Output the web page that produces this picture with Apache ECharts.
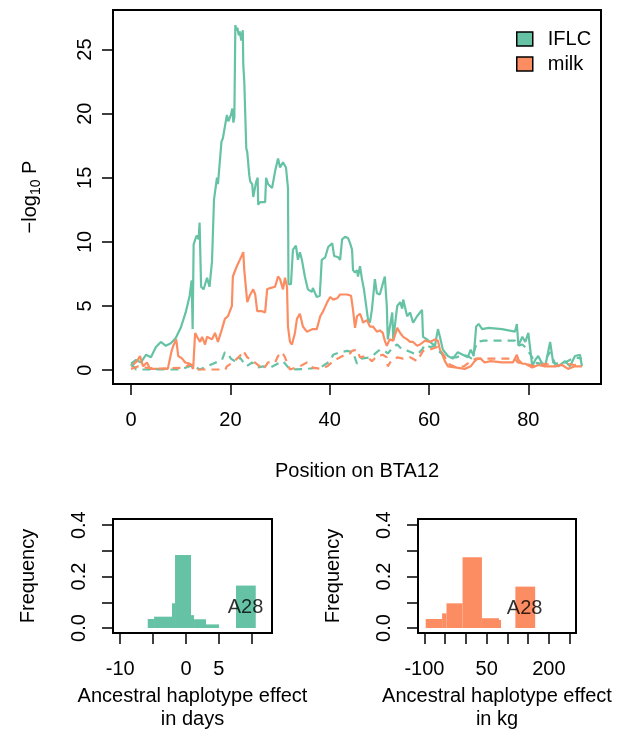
<!DOCTYPE html>
<html>
<head>
<meta charset="utf-8">
<title>BTA12</title>
<script src="https://cdn.jsdelivr.net/npm/echarts@6.0.0/dist/echarts.min.js"></script>
<style>
  html, body { margin: 0; padding: 0; background: #fff; }
  #main { width: 625px; height: 732px; }
</style>
</head>
<body>
<div id="main"></div>
<script>
// ---- main plot: -log10 P along BTA12 ----
var iflcPos = [0,1,2,3,4,5,6,7,8,9,10,11,11.8,12.2,12.4,12.6,13.2,13.6,13.8,14.1,14.6,15.3,15.8,16.3,16.7,17.3,17.5,18.2,18.5,19.3,19.6,20.1,20.4,20.6,20.8,21.0,21.2,21.4,21.7,21.9,22.2,22.5,22.6,22.8,23.0,23.2,23.4,23.8,24.0,24.4,24.6,24.8,25.2,25.5,25.6,26.0,27.0,27.2,27.6,28.4,29.0,29.6,30.0,30.6,31.2,31.6,31.7,32.2,32.6,33.2,33.6,34.0,34.4,35.0,35.6,36.4,36.6,37.4,38.0,38.4,39.1,39.7,40.5,40.9,41.7,42.1,42.5,43.1,43.7,44.1,44.5,44.7,45.1,45.5,45.7,46.1,46.5,46.9,47.7,48.1,48.5,49.1,49.5,50.1,51.1,51.5,51.7,52.6,52.8,53.6,54.2,54.6,54.8,55.6,56.2,56.8,57.6,58.6,58.8,59.6,60.2,61.2,61.8,62.2,62.8,63.8,64.8,65.8,66.8,67.8,68.4,69.0,69.5,70.0,70.7,72.0,74.7,77.3,77.7,78.0,78.8,79.4,80.0,80.8,81.4,82.0,82.8,83.4,84.4,85.0,86.0,87.4,88.4,89.4,90.4,90.8];
var iflcLogP = [0.5,0.8,0.6,1.2,1.0,1.8,2.2,1.9,2.1,2.5,3.3,4.5,5.8,7.0,3.2,9.8,10.5,10.2,11.5,6.5,6.3,7.2,6.5,8.5,13.3,15.0,14.5,17.8,18.1,19.9,19.4,19.9,20.4,19.3,19.7,26.9,26.5,26.7,26.1,26.4,25.7,26.5,23.8,22.5,19.9,17.3,17.0,15.2,14.7,14.5,13.5,13.9,14.7,15.0,12.9,13.1,13.1,15.0,14.5,14.2,15.5,16.5,15.8,16.2,15.8,14.2,6.7,6.7,9.4,9.7,8.6,9.2,8.6,7.3,6.3,6.1,6.4,5.7,5.8,8.6,8.8,9.6,9.9,8.9,8.8,8.6,10.2,10.4,10.3,9.9,9.4,7.8,7.6,7.8,7.3,8.1,7.1,6.3,4.0,3.7,4.7,7.1,6.0,5.9,7.3,5.0,2.4,4.5,2.4,5.0,5.3,4.8,5.5,4.2,4.5,3.7,4.2,4.7,2.6,2.4,2.2,1.9,3.2,2.6,1.6,1.1,0.9,1.4,1.2,1.0,1.6,1.1,3.4,3.6,3.2,3.3,3.2,3.0,3.6,1.9,2.6,2.2,2.9,0.3,0.8,1.1,0.5,0.3,2.2,0.6,0.3,0.7,0.3,1.1,1.2,0.3];

var milkPos = [0,1.2,1.8,2.4,3.2,3.8,6,7.4,8.1,8.5,9.1,9.5,10.3,10.9,11.9,12.5,12.9,13.3,13.9,14.3,14.9,15.3,16.3,16.9,17.5,18.3,18.9,19.5,20.3,20.5,21.3,21.9,22.6,22.8,23.4,24.0,24.6,25.0,25.4,26.4,27.0,27.4,28.0,29.0,29.6,30.0,30.6,31.0,31.4,31.6,32.0,32.4,33.0,33.4,34.0,34.6,35.4,36.6,37.4,38.1,38.7,39.5,40.1,40.7,41.5,42.1,43.5,44.3,44.7,45.1,45.5,46.1,46.5,46.7,47.5,48.1,48.7,49.5,50.1,50.7,51.1,51.5,52.1,52.8,53.6,54.2,54.8,55.6,56.2,56.8,57.6,58.2,59.2,60.2,61.2,61.8,62.2,62.8,63.2,63.8,65.6,67.2,68.4,69.2,69.8,70.4,71.2,72.4,74.7,76.9,77.7,78.0,78.8,79.4,80.8,82.0,83.4,85.4,86.8,88.0,89.4,90.8];
var milkLogP = [0.3,0.7,1.1,0.3,0.6,0.1,0.1,0.1,1.4,1.9,2.4,1.1,0.9,0.6,0.5,0.1,2.9,2.6,2.2,2.6,2.0,2.6,2.4,2.9,2.2,3.2,4.0,4.2,5.0,7.3,8.1,8.6,9.2,7.8,5.3,5.9,6.3,5.9,4.6,4.6,4.5,6.3,6.4,6.5,7.3,7.1,6.3,7.2,6.5,3.4,2.2,2.0,2.9,4.0,4.4,3.4,3.0,3.2,3.2,4.2,4.6,5.3,5.7,5.5,5.6,5.9,5.9,5.8,4.7,3.3,4.2,4.4,4.0,3.7,3.9,3.4,3.4,3.0,3.1,2.9,2.3,1.9,2.4,2.3,3.3,2.9,2.6,2.4,2.2,2.2,1.9,2.0,2.3,2.2,2.4,2.3,1.6,1.1,0.7,0.3,0.2,0.1,0.3,0.7,0.9,0.9,0.6,0.7,0.6,0.6,1.2,0.8,0.5,0.5,0.2,0.4,0.3,0.3,0.4,0.1,0.3,0.3];

// dashed: conditional analysis
var iflcCondPos = [0,1,5,10,12.4,13.8,16.5,18.3,18.9,19.5,20.1,20.5,21.3,21.9,23.2,24.4,25.4,26.6,28.0,30.0,30.6,32.0,35.4,38.1,40.1,40.7,42.1,43.5,44.7,45.5,46.3,48.3,49.5,50.1,51.1,51.7,52.8,53.6,54.6,55.8,56.2,57.6,58.6,59.2,60.2,61.2,62.2,63.2,64.2,65.6,66.8,67.8,68.6,69.7,71.0,75.0,77.3,77.9,78.8,79.6,80.8,81.0,82.8,84.4,85.4,87.4,89.4,90.8];
var iflcCondLogP = [0.5,0.05,0.05,0.05,0.4,0.05,0.5,0.8,1.4,1.3,0.9,1.0,0.6,1.0,0.3,0.6,0.2,0.3,0.2,0.6,0.7,0.05,0.1,0.2,0.7,1.2,1.4,1.5,1.4,0.5,0.9,1.0,1.4,1.6,1.5,1.3,1.8,2.0,1.6,1.5,1.4,1.2,1.6,2.0,1.8,1.9,1.4,1.1,1.0,1.0,1.2,1.1,0.9,2.2,2.3,2.3,2.3,1.9,2.0,1.7,1.0,0.6,0.5,1.4,0.5,0.6,1.0,0.9];

var milkCondPos = [0,1.5,3,5,10.9,11.5,12.5,13.3,19.0,19.3,20.5,21.9,22.6,23.4,24.6,25.6,26.6,27.6,29.0,29.6,30.4,31.0,32.0,34.0,35.4,36.6,38.1,39.5,40.7,42.1,43.1,44.1,44.5,45.5,46.1,47.3,48.5,49.5,50.7,51.5,51.7,52.2,53.6,54.8,56.2,57.6,58.8,60.2,61.6,62.6,63.2,63.8,65.6,67.0,68.4,69.4,72,75,77.3,77.9,79.4,81.4,83.4,85.4,87.4,89.4,90.8];
var milkCondLogP = [0.1,0.3,0.2,0.1,0.2,0.4,0.4,0.05,0.05,0.3,0.6,1.1,1.5,1.0,0.7,0.4,0.05,0.6,0.6,1.1,1.4,1.0,0.05,0.3,0.6,0.2,0.1,0.3,0.7,1.0,1.2,1.3,1.5,1.6,1.0,1.1,0.7,1.1,1.2,1.0,0.3,0.6,1.0,0.9,1.0,0.7,1.5,1.6,1.8,1.4,1.0,0.5,0.2,0.3,0.7,0.9,0.9,0.9,0.9,0.6,0.5,0.3,0.5,0.3,0.5,0.4,0.5];

var mainXTicks = [0, 20, 40, 60, 80];
var mainYTicks = [0, 5, 10, 15, 20, 25];

// ---- histograms of ancestral haplotype effects ----
var daysLo   = [-5.82, -4.86, -2.13, -1.67, 0.76, 1.22, 3.04, 7.6];
var daysHi   = [-4.86, -2.13, -1.67, 0.76, 1.22, 3.04, 5.02, 10.6];
var daysFreq = [0.035, 0.044, 0.096, 0.284, 0.05, 0.034, 0.014, 0.165];
var daysA28  = [9.04, 0.078];
var daysTicks  = [-10, -5, 0, 5, 10];
var daysLabels = [-10, 0, 5];

var kgLo   = [-96.8, -57.3, -46.7, -8, 38.7, 79.8, 119.3];
var kgHi   = [-57.3, -46.7, -8, 38.7, 79.8, 84.7, 167];
var kgFreq = [0.035, 0.057, 0.096, 0.275, 0.038, 0.031, 0.161];
var kgA28  = [141.5, 0.074];
var kgTicks  = [-100, -50, 0, 50, 100, 150, 200, 250];
var kgLabels = [-100, 50, 200];

var freqTicks  = [0, 0.1, 0.2, 0.3, 0.4];
var freqLabels = [0, 0.2, 0.4];

var GREEN = '#66C2A5', ORANGE = '#FC8D62';
var FONT = "'Liberation Sans', Arial, sans-serif";

function zip(a, b) {
    return a.map(function (v, i) { return [v, b[i]]; });
}

function lineSeries(name, pos, val, color, dashed) {
    return {
        name: name, type: 'line', xAxisIndex: 0, yAxisIndex: 0,
        data: zip(pos, val), showSymbol: false, symbol: 'none',
        itemStyle: { color: color },
        lineStyle: { color: color, width: 2.2, type: dashed ? [8, 6] : 'solid' },
        silent: true
    };
}

function histSeries(idx, lo, hi, freq, color) {
    return {
        type: 'custom', xAxisIndex: idx, yAxisIndex: idx,
        data: lo.map(function (v, i) { return [v, hi[i], freq[i]]; }),
        encode: { x: [0, 1], y: 2 },
        renderItem: function (params, api) {
            var p0 = api.coord([api.value(0), api.value(2)]);
            var p1 = api.coord([api.value(1), 0]);
            return {
                type: 'rect',
                shape: { x: p0[0], y: p0[1], width: p1[0] - p0[0], height: p1[1] - p0[1] },
                style: { fill: color }
            };
        }
    };
}

function labelSeries(idx, pt) {
    return {
        type: 'scatter', xAxisIndex: idx, yAxisIndex: idx,
        data: [pt], symbolSize: 1, itemStyle: { color: 'rgba(0,0,0,0)' },
        label: { show: true, position: 'inside', formatter: 'A28', color: '#000', fontSize: 20, fontFamily: FONT },
        silent: true
    };
}

var tickStyle = { show: true, length: 11, lineStyle: { color: '#000', width: 1.5 } };

function xAx(idx, min, max, ticks, labels, name, gap) {
    return {
        gridIndex: idx, type: 'value', min: min, max: max,
        axisLine: { show: false, onZero: false },
        axisTick: Object.assign({ customValues: ticks }, tickStyle),
        axisLabel: { customValues: labels, color: '#000', fontSize: 20, fontFamily: FONT, margin: 26 },
        splitLine: { show: false },
        name: name, nameLocation: 'middle', nameGap: gap,
        nameTextStyle: { color: '#000', fontSize: 20, fontFamily: FONT, lineHeight: 23, verticalAlign: 'top' }
    };
}

function yAx(idx, min, max, ticks, labels, fmt, margin) {
    return {
        gridIndex: idx, type: 'value', min: min, max: max,
        axisLine: { show: false, onZero: false },
        axisTick: Object.assign({ customValues: ticks }, tickStyle),
        axisLabel: { customValues: labels, color: '#000', fontSize: 20, fontFamily: FONT, rotate: 90, margin: margin, formatter: fmt },
        splitLine: { show: false }
    };
}

var chart = echarts.init(document.getElementById('main'));

var yMain = yAx(0, -1.08, 28.08, mainYTicks, mainYTicks, null, 18);
yMain.name = '{a|\u2212log}{s|10}{a| P}';
yMain.nameLocation = 'middle';
yMain.nameGap = 70;
yMain.nameTextStyle = {
    color: '#000', fontFamily: FONT,
    rich: {
        a: { fontSize: 20, fontFamily: FONT, color: '#000', lineHeight: 26, verticalAlign: 'middle' },
        s: { fontSize: 14, fontFamily: FONT, color: '#000', lineHeight: 14, verticalAlign: 'bottom' }
    }
};

var yDays = yAx(1, -0.0195, 0.424, freqTicks, freqLabels, function (v) { return v.toFixed(1); }, 24);
yDays.name = 'Frequency'; yDays.nameLocation = 'middle'; yDays.nameGap = 75;
yDays.nameTextStyle = { color: '#000', fontSize: 20, fontFamily: FONT };
var yKg = yAx(2, -0.0195, 0.424, freqTicks, freqLabels, function (v) { return v.toFixed(1); }, 24);
yKg.name = 'Frequency'; yKg.nameLocation = 'middle'; yKg.nameGap = 75;
yKg.nameTextStyle = { color: '#000', fontSize: 20, fontFamily: FONT };

var option = {
    animation: false,
    backgroundColor: '#fff',
    textStyle: { fontFamily: FONT },
    grid: [
        { left: 113, top: 10, width: 488, height: 374, show: true, borderColor: '#000', borderWidth: 2, containLabel: false },
        { left: 113, top: 519, width: 159, height: 114, show: true, borderColor: '#000', borderWidth: 2, containLabel: false },
        { left: 418, top: 519, width: 158, height: 114, show: true, borderColor: '#000', borderWidth: 2, containLabel: false }
    ],
    legend: {
        data: ['IFLC', 'milk'],
        orient: 'vertical', left: 511, top: 24,
        icon: 'rect', itemWidth: 16, itemHeight: 14, itemGap: 5,
        itemStyle: { borderColor: '#000', borderWidth: 1.5 },
        textStyle: { color: '#000', fontSize: 20, fontFamily: FONT, padding: [0, 0, 0, 10] }
    },
    xAxis: [
        xAx(0, -3.64, 94.64, mainXTicks, mainXTicks, 'Position on BTA12', 76),
        xAx(1, -11.1, 13.07, daysTicks, daysLabels, 'Ancestral haplotype effect\nin days', 52),
        xAx(2, -115.4, 265.4, kgTicks, kgLabels, 'Ancestral haplotype effect\nin kg', 52)
    ],
    yAxis: [yMain, yDays, yKg],
    series: [
        lineSeries('IFLC', iflcPos, iflcLogP, GREEN, false),
        lineSeries('milk', milkPos, milkLogP, ORANGE, false),
        lineSeries('IFLC cond', iflcCondPos, iflcCondLogP, GREEN, true),
        lineSeries('milk cond', milkCondPos, milkCondLogP, ORANGE, true),
        histSeries(1, daysLo, daysHi, daysFreq, GREEN),
        histSeries(2, kgLo, kgHi, kgFreq, ORANGE),
        labelSeries(1, daysA28),
        labelSeries(2, kgA28)
    ]
};

chart.setOption(option);
</script>
</body>
</html>
